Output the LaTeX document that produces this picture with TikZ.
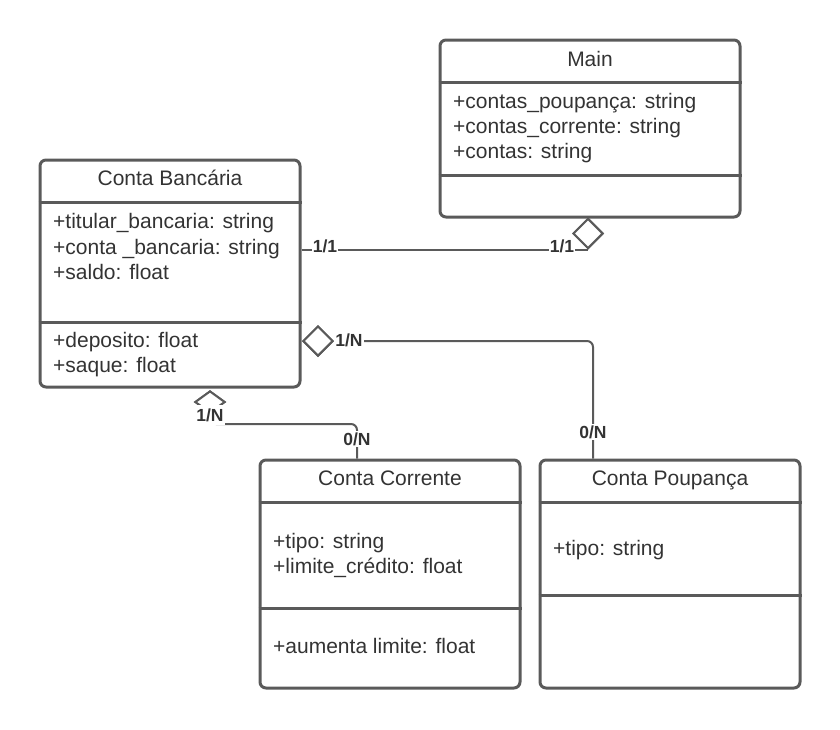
\documentclass[tikz,border=0pt]{standalone}
\usepackage{fontspec}
\setmainfont{Liberation Sans}
\usetikzlibrary{calc}
\usetikzlibrary{shapes.geometric}
\usepackage{xcolor}
\definecolor{umlline}{HTML}{5A5A5A}
\definecolor{umltext}{HTML}{333333}

\begin{document}
\begin{tikzpicture}[x=1pt, y=-1pt,
 classbox/.style={draw=umlline, line width=3pt, rounded corners=6pt, inner sep=0pt},
 divider/.style={umlline, line width=3pt},
 classtitle/.style={anchor=base, inner sep=0pt, text=umltext, font=\fontsize{21}{25}\selectfont},
 member/.style={anchor=base west, inner sep=0pt, text=umltext, font=\fontsize{21}{25}\selectfont},
 assoc/.style={umlline, line width=2pt, rounded corners=6pt},
 aggr/.style={diamond, draw=umlline, fill=white, line width=2pt, inner sep=0pt},
 mult/.style={fill=white, inner sep=1pt, text=umltext, font=\bfseries\fontsize{17.5}{20}\selectfont}]
\useasboundingbox (0,0) rectangle (840,729);
\node[classbox, minimum width=300pt, minimum height=177pt] (main) at (590,128.5) {};
\node[classbox, minimum width=260pt, minimum height=227pt] (banco) at (170,273.5) {};
\node[classbox, minimum width=260pt, minimum height=228pt] (corr) at (390,574) {};
\node[classbox, minimum width=260pt, minimum height=228pt] (poup) at (670,574) {};
\foreach \n/\y in {main/82, main/175, banco/202, banco/322, corr/502, corr/608, poup/502, poup/595}
 \draw[divider] (\n.west |- 0,\y) -- (\n.east |- 0,\y);

\node[classtitle] (mainT) at (590,66) {Main};
\node[member] (mainA) at (453,108) {+contas\_poupança: string};
\node[member] (mainB) at (453,133) {+contas\_corrente: string};
\node[member] (mainC) at (453,158) {+contas: string};

\node[classtitle] (bancoT) at (170,185) {Conta Bancária};
\node[member] (bancoA) at (53,228) {+titular\_bancaria: string};
\node[member] (bancoB) at (53,254) {+conta \_bancaria: string};
\node[member] (bancoC) at (53,279) {+saldo: float};
\node[member] (bancoD) at (53,347) {+deposito: float};
\node[member] (bancoE) at (53,372) {+saque: float};

\node[classtitle] (corrT) at (390,485) {Conta Corrente};
\node[member] (corrA) at (273,548) {+tipo: string};
\node[member] (corrB) at (273,573) {+limite\_crédito: float};
\node[member] (corrC) at (273,653) {+aumenta limite: float};

\node[classtitle] (poupT) at (670,485) {Conta Poupança};
\node[member] (poupA) at (553,555) {+tipo: string};

\node[aggr, minimum width=30pt, minimum height=30pt] (dmain) at (588,233.5) {};
\node[aggr, minimum width=30pt, minimum height=30pt] (dbanco) at (318,341) {};
\node[aggr, minimum width=30pt, minimum height=22pt] (dcorr) at (210,402) {};
\coordinate (kneeC) at (357,424);
\coordinate (kneeP) at (593,341);

\draw[assoc] (banco.east |- dmain.south) -- (dmain.south);
\draw[assoc] (dbanco.east) -- (kneeP) -- (poup.north -| kneeP);
\draw[assoc] (dcorr.south) |- (kneeC) -- (corr.north -| kneeC);
\node[aggr, minimum width=30pt, minimum height=30pt] at (dmain) {};
\node[aggr, minimum width=30pt, minimum height=30pt] at (dbanco) {};
\node[aggr, minimum width=30pt, minimum height=22pt] at (dcorr) {};

\node[mult] (m1) at (325,246) {1/1};
\node[mult] (m2) at (562,246) {1/1};
\node[mult] (m3) at (349,340) {1/N};
\node[mult, inner ysep=3.5pt] (m4) at (210,415) {1/N};
\node[mult] (m5) at (357,439) {0/N};
\node[mult] (m6) at (593,432) {0/N};
\end{tikzpicture}
\end{document}
